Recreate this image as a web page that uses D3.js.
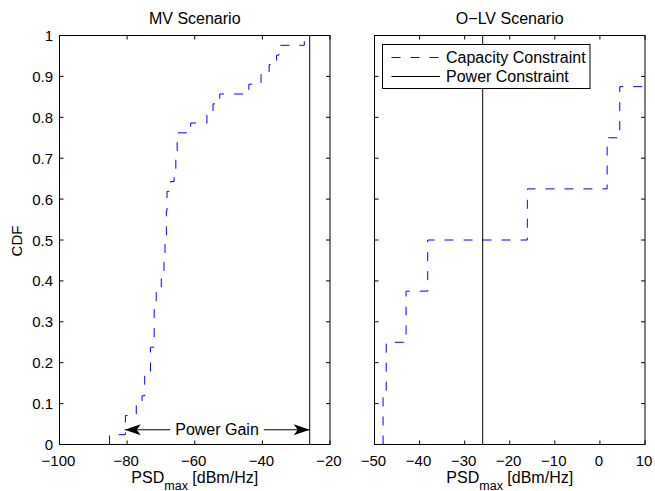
<!DOCTYPE html>
<html>
<head>
<meta charset="utf-8">
<script src="https://cdn.jsdelivr.net/npm/d3@7"></script>
<style>
body { margin: 0; background: #fff; }
text { font-family: "Liberation Sans", Arial, sans-serif; font-size: 16px; fill: #000; }
text.tick { font-size: 15px; }
</style>
</head>
<body>
<svg></svg>
<script>
var width = 655;
var height = 491;

// MV scenario: x where the empirical CDF jumps, and the level after the jump
var mvX = [-85.2, -80.5, -77.3, -75.6, -74.8, -73.1, -72.0, -71.4, -69.9, -69.1, -68.8, -68.4, -68.2,
           -67.1, -66.1, -65.6, -65.2, -61.2, -56.4, -54.6, -52.6, -44.0, -40.4, -38.0, -35.8, -35.1, -27.6];
var mvF = [0.024, 0.071, 0.095, 0.119, 0.167, 0.238, 0.333, 0.381, 0.405, 0.452, 0.5, 0.571, 0.619,
           0.643, 0.667, 0.714, 0.762, 0.786, 0.81, 0.833, 0.857, 0.881, 0.905, 0.929, 0.952, 0.976, 1.0];

// O-LV scenario
var olvX = [-48.1, -47.4, -43.0, -38.2, -16.1, 1.6, 4.4];
var olvF = [0.125, 0.25, 0.375, 0.5, 0.625, 0.75, 0.875];

var powerConstraint = -26;

var yTicks = [0, 0.1, 0.2, 0.3, 0.4, 0.5, 0.6, 0.7, 0.8, 0.9, 1];
var mvTicks = [-100, -80, -60, -40, -20];
var olvTicks = [-50, -40, -30, -20, -10, 0, 10];

var svg = d3.select('svg')
            .attr('width', width)
            .attr('height', height);

var y = d3.scaleLinear().domain([0, 1]).range([444.5, 35.5]);

var panels = [
  {id: 'mv', title: 'MV Scenario', x: d3.scaleLinear().domain([-100, -20]).range([59.5, 330]),
   ticks: mvTicks, xs: mvX, fs: mvF, yLabels: true},
  {id: 'olv', title: 'O\u2212LV Scenario', x: d3.scaleLinear().domain([-50, 10]).range([374.5, 645]),
   ticks: olvTicks, xs: olvX, fs: olvF, yLabels: false}
];

var fmt = function(v) { return String(v).replace('-', '\u2212'); };
var tickLen = 4;

panels.forEach(function(p) {
  var x = p.x;
  var x0 = x.range()[0], x1 = x.range()[1];
  var g = svg.append('g');

  svg.append('clipPath').attr('id', 'clip-' + p.id)
     .append('rect')
     .attr('x', x0).attr('y', y(1))
     .attr('width', x1 - x0).attr('height', y(0) - y(1));

  var plot = g.append('g').attr('clip-path', 'url(#clip-' + p.id + ')');

  // stairs of the CDF
  var pts = [[p.xs[0], 0]];
  p.xs.forEach(function(v, i) { pts.push([v, p.fs[i]]); });
  pts.push([x.domain()[1], p.fs[p.fs.length - 1]]);

  var line = d3.line()
               .x(d => x(d[0]))
               .y(d => y(d[1]))
               .curve(d3.curveStepAfter);

  plot.append('path')
      .attr('d', line(pts))
      .attr('fill', 'none')
      .attr('stroke', '#0000ff')
      .attr('stroke-width', 1)
      .attr('stroke-dasharray', '9,10');

  plot.append('line')
      .attr('x1', x(powerConstraint)).attr('x2', x(powerConstraint))
      .attr('y1', y(0)).attr('y2', y(1))
      .attr('stroke', '#000')
      .attr('stroke-width', 1);

  // inward ticks on all four sides
  p.ticks.forEach(function(t) {
    g.append('line').attr('x1', x(t)).attr('x2', x(t))
     .attr('y1', y(0)).attr('y2', y(0) - tickLen).attr('stroke', '#000');
    g.append('line').attr('x1', x(t)).attr('x2', x(t))
     .attr('y1', y(1)).attr('y2', y(1) + tickLen).attr('stroke', '#000');
    g.append('text')
     .attr('class', 'tick')
     .attr('x', x(t) - 1).attr('y', 465.5)
     .attr('text-anchor', 'middle')
     .text(fmt(t));
  });

  yTicks.forEach(function(t) {
    g.append('line').attr('x1', x0).attr('x2', x0 + tickLen)
     .attr('y1', y(t)).attr('y2', y(t)).attr('stroke', '#000');
    g.append('line').attr('x1', x1).attr('x2', x1 - tickLen)
     .attr('y1', y(t)).attr('y2', y(t)).attr('stroke', '#000');
    if (p.yLabels) {
      g.append('text')
       .attr('class', 'tick')
       .attr('x', x0 - 6.5).attr('y', y(t) + 5.5)
       .attr('text-anchor', 'end')
       .text(t);
    }
  });

  g.append('rect')
   .attr('x', x0).attr('y', y(1))
   .attr('width', x1 - x0).attr('height', y(0) - y(1))
   .attr('fill', 'none').attr('stroke', '#000').attr('stroke-width', 1);

  g.append('text')
   .attr('x', (x0 + x1) / 2).attr('y', 23.5)
   .attr('text-anchor', 'middle')
   .text(p.title);

  var xl = g.append('text')
            .attr('x', (x0 + x1) / 2).attr('y', 483)
            .attr('text-anchor', 'middle');
  xl.append('tspan').text('PSD');
  xl.append('tspan').attr('dy', 6.5).style('font-size', '12.5px').text('max');
  xl.append('tspan').attr('dy', -6.5).text(' [dBm/Hz]');
});

svg.append('text')
   .attr('transform', 'translate(21.5,241) rotate(-90)')
   .attr('text-anchor', 'middle')
   .style('font-size', '15px')
   .text('CDF');

// Power Gain double arrow on the MV panel
var mx = panels[0].x;
var ay = y(0.036);
var ax1 = mx(-80.7), ax2 = mx(powerConstraint);
svg.append('line')
   .attr('x1', ax1).attr('x2', ax2)
   .attr('y1', ay).attr('y2', ay)
   .attr('stroke', '#000');

function head(tip, dir) {
  var L = 16, w = 5.5, n = 4;
  return 'M' + tip + ',' + ay +
         'L' + (tip + dir * L) + ',' + (ay - w) +
         'L' + (tip + dir * (L - n)) + ',' + ay +
         'L' + (tip + dir * L) + ',' + (ay + w) + 'Z';
}
svg.append('path').attr('d', head(ax1, 1)).attr('fill', '#000');
svg.append('path').attr('d', head(ax2, -1)).attr('fill', '#000');

var gainBg = svg.append('rect').attr('fill', '#fff');
var gain = svg.append('text')
              .attr('x', 217).attr('y', ay + 5)
              .attr('text-anchor', 'middle')
              .text('Power Gain');
var bb = gain.node().getBBox();
gainBg.attr('x', bb.x - 5).attr('y', bb.y).attr('width', bb.width + 10).attr('height', bb.height);

// legend
var leg = svg.append('g');
leg.append('rect')
   .attr('x', 382.5).attr('y', 44.5)
   .attr('width', 207.5).attr('height', 44)
   .attr('fill', '#fff').attr('stroke', '#000');
leg.append('line')
   .attr('x1', 391.5).attr('x2', 440).attr('y1', 57.5).attr('y2', 57.5)
   .attr('stroke', '#0000ff').attr('stroke-dasharray', '9,10');
leg.append('line')
   .attr('x1', 391.5).attr('x2', 440).attr('y1', 76.5).attr('y2', 76.5)
   .attr('stroke', '#000');
leg.append('text').attr('x', 446).attr('y', 62.5).text('Capacity Constraint');
leg.append('text').attr('x', 446).attr('y', 82).text('Power Constraint');
</script>
</body>
</html>
